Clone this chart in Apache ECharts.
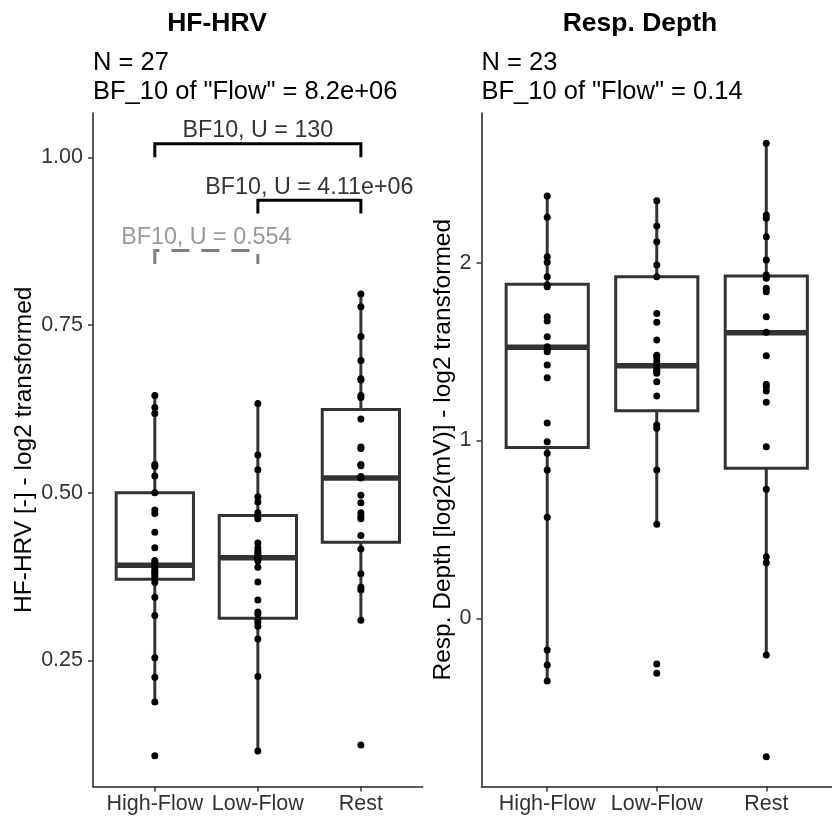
<!DOCTYPE html>
<html><head><meta charset="utf-8">
<script src="https://cdn.jsdelivr.net/npm/echarts@6/dist/echarts.min.js"></script>
<style>html,body{margin:0;padding:0;background:#fff}#c{width:832px;height:816px}</style>
</head><body><div id="c"></div>
<script>
const categories = ['High-Flow', 'Low-Flow', 'Rest'];

// HF-HRV (left panel) individual values
const hrvHighFlow = [0.645,0.627,0.618,0.542,0.539,0.525,0.500,0.474,0.469,0.441,0.418,0.399,0.396,0.394,0.391,0.386,0.382,0.380,0.376,0.372,0.366,0.344,0.317,0.254,0.225,0.188,0.108];
const hrvLowFlow = [0.633,0.556,0.534,0.494,0.486,0.470,0.465,0.461,0.425,0.418,0.413,0.410,0.408,0.405,0.403,0.398,0.389,0.367,0.340,0.322,0.319,0.311,0.307,0.301,0.282,0.226,0.115];
const hrvRest = [0.796,0.777,0.733,0.697,0.670,0.668,0.645,0.642,0.610,0.568,0.566,0.542,0.540,0.524,0.522,0.496,0.485,0.470,0.465,0.461,0.436,0.416,0.379,0.359,0.355,0.310,0.124];
// box stats [lower whisker, Q1, median, Q3, upper whisker]
const hrvBoxHighFlow = [0.188, 0.371, 0.392, 0.500, 0.645];
const hrvBoxLowFlow = [0.115, 0.313, 0.403, 0.466, 0.633];
const hrvBoxRest = [0.310, 0.426, 0.522, 0.624, 0.796];

// Resp. Depth (right panel) individual values
const depthHighFlow = [2.375,2.255,2.034,2.002,1.921,1.875,1.865,1.696,1.672,1.584,1.528,1.513,1.499,1.425,1.353,1.098,0.993,0.928,0.834,0.568,-0.178,-0.263,-0.353];
const depthLowFlow = [2.349,2.206,2.118,1.987,1.921,1.715,1.665,1.565,1.480,1.466,1.445,1.425,1.400,1.390,1.378,1.331,1.250,1.087,1.069,0.834,0.529,-0.257,-0.309];
const depthRest = [2.672,2.268,2.250,2.146,2.015,1.931,1.925,1.912,1.856,1.837,1.696,1.609,1.477,1.316,1.303,1.278,1.215,0.965,0.726,0.346,0.313,-0.206,-0.778];
const depthBoxHighFlow = [-0.353, 0.960, 1.524, 1.879, 2.375];
const depthBoxLowFlow = [0.529, 1.168, 1.421, 1.921, 2.349];
const depthBoxRest = [-0.206, 0.844, 1.606, 1.925, 2.672];

const hrvTicks = [0.25, 0.50, 0.75, 1.00];
const depthTicks = [0, 1, 2];

// significance brackets (left panel)
const bracketFrom = [0, 1, 0];
const bracketTo = [2, 2, 1];
const bracketTop = [1.020, 0.936, 0.861];
const bracketTip = [1.000, 0.916, 0.841];
const bracketText = ['BF10, U = 130', 'BF10, U = 4.11e+06', 'BF10, U = 0.554'];
const bracketColor = ['#000000', '#000000', '#7f7f7f'];
const bracketDashed = [false, false, true];

const FONT = "'Liberation Sans', Arial, Helvetica, sans-serif";
const DARK = '#333333';

function renderBox(params, api) {
  const x = api.value(0);
  const pMin = api.coord([x, api.value(1)]);
  const pQ1 = api.coord([x, api.value(2)]);
  const pMed = api.coord([x, api.value(3)]);
  const pQ3 = api.coord([x, api.value(4)]);
  const pMax = api.coord([x, api.value(5)]);
  const w = api.size([0.75, 0])[0];
  const cx = pQ1[0];
  const ls = { stroke: DARK, lineWidth: 3 };
  return {
    type: 'group',
    children: [
      { type: 'line', shape: { x1: cx, y1: pMax[1], x2: cx, y2: pQ3[1] }, style: ls },
      { type: 'line', shape: { x1: cx, y1: pQ1[1], x2: cx, y2: pMin[1] }, style: ls },
      { type: 'rect', shape: { x: cx - w / 2, y: pQ3[1], width: w, height: pQ1[1] - pQ3[1] },
        style: { fill: '#ffffff', stroke: DARK, lineWidth: 3 } },
      { type: 'line', shape: { x1: cx - w / 2, y1: pMed[1], x2: cx + w / 2, y2: pMed[1] },
        style: { stroke: DARK, lineWidth: 5.5 } }
    ]
  };
}

function boxData(list) { return list.map((b, i) => [i].concat(b)); }
function pointData(lists) {
  const out = [];
  lists.forEach((arr, i) => arr.forEach(v => out.push([i, v])));
  return out;
}

function xAxisDef(gridIndex) {
  return {
    type: 'value', gridIndex: gridIndex, min: -0.6, max: 2.6,
    splitLine: { show: false },
    axisLine: { show: true, onZero: false, lineStyle: { color: '#222', width: 1.5 } },
    axisTick: { show: true, length: 5, customValues: [0, 1, 2], lineStyle: { color: DARK, width: 1.5 } },
    axisLabel: { customValues: [0, 1, 2], formatter: v => categories[Math.round(v)], margin: 7,
      fontFamily: FONT, fontSize: 21.5, color: DARK }
  };
}

function yAxisDef(gridIndex, min, max, ticks, fmt, name, gap) {
  return {
    type: 'value', gridIndex: gridIndex, min: min, max: max,
    splitLine: { show: false },
    axisLine: { show: true, onZero: false, lineStyle: { color: '#222', width: 1.5 } },
    axisTick: { show: true, length: 5, customValues: ticks, lineStyle: { color: DARK, width: 1.5 } },
    axisLabel: { customValues: ticks, formatter: fmt, margin: 10,
      fontFamily: FONT, fontSize: 21.5, color: DARK },
    name: name, nameLocation: 'middle', nameGap: gap,
    nameTextStyle: { fontFamily: FONT, fontSize: 24.5, color: '#000' }
  };
}

const series = [
  { type: 'custom', xAxisIndex: 0, yAxisIndex: 0, renderItem: renderBox,
    encode: { x: 0, y: [1, 2, 3, 4, 5] }, z: 2,
    data: boxData([hrvBoxHighFlow, hrvBoxLowFlow, hrvBoxRest]) },
  { type: 'scatter', xAxisIndex: 0, yAxisIndex: 0, symbolSize: 7, z: 5,
    itemStyle: { color: '#000', opacity: 1 }, data: pointData([hrvHighFlow, hrvLowFlow, hrvRest]) },
  { type: 'custom', xAxisIndex: 1, yAxisIndex: 1, renderItem: renderBox,
    encode: { x: 0, y: [1, 2, 3, 4, 5] }, z: 2,
    data: boxData([depthBoxHighFlow, depthBoxLowFlow, depthBoxRest]) },
  { type: 'scatter', xAxisIndex: 1, yAxisIndex: 1, symbolSize: 7, z: 5,
    itemStyle: { color: '#000', opacity: 1 }, data: pointData([depthHighFlow, depthLowFlow, depthRest]) }
];

bracketText.forEach((t, k) => {
  series.push({
    type: 'line', xAxisIndex: 0, yAxisIndex: 0, symbol: 'none', z: 6, animation: false,
    lineStyle: { color: bracketColor[k], width: 3, type: bracketDashed[k] ? [18, 12] : 'solid', cap: 'butt', join: 'miter' },
    data: [[bracketFrom[k], bracketTip[k]], [bracketFrom[k], bracketTop[k]], [bracketTo[k], bracketTop[k]], [bracketTo[k], bracketTip[k]]]
  });
  series.push({
    type: 'scatter', xAxisIndex: 0, yAxisIndex: 0, symbolSize: 1, z: 7, animation: false,
    itemStyle: { color: 'rgba(0,0,0,0)' },
    label: { show: true, position: 'top', distance: 1, formatter: t, color: bracketColor[k],
      fontFamily: FONT, fontSize: 23.3 },
    data: [[(bracketFrom[k] + bracketTo[k]) / 2, bracketTop[k]]]
  });
});

const option = {
  backgroundColor: '#ffffff',
  animation: false,
  grid: [
    { left: 93, top: 113, width: 329.7, height: 673.5 },
    { left: 481.5, top: 113, width: 361.3, height: 673.5 }
  ],
  xAxis: [xAxisDef(0), xAxisDef(1)],
  yAxis: [
    yAxisDef(0, 0.062, 1.066, hrvTicks, v => v.toFixed(2), 'HF-HRV [-] - log2 transformed', 56),
    yAxisDef(1, -0.946, 2.842, depthTicks, v => String(v), 'Resp. Depth [log2(mV)] - log2 transformed', 22)
  ],
  graphic: [
    { type: 'text', x: 217, y: 24, style: { text: 'HF-HRV', align: 'center', verticalAlign: 'middle',
      font: "bold 26.5px " + FONT, fill: '#000' } },
    { type: 'text', x: 640, y: 24, style: { text: 'Resp. Depth', align: 'center', verticalAlign: 'middle',
      font: "bold 26.5px " + FONT, fill: '#000' } },
    { type: 'text', x: 93, y: 63, style: { text: 'N = 27', verticalAlign: 'middle', font: "25.5px " + FONT, fill: '#000' } },
    { type: 'text', x: 93, y: 92, style: { text: 'BF_10 of "Flow" = 8.2e+06', verticalAlign: 'middle', font: "25.5px " + FONT, fill: '#000' } },
    { type: 'text', x: 481.5, y: 63, style: { text: 'N = 23', verticalAlign: 'middle', font: "25.5px " + FONT, fill: '#000' } },
    { type: 'text', x: 481.5, y: 92, style: { text: 'BF_10 of "Flow" = 0.14', verticalAlign: 'middle', font: "25.5px " + FONT, fill: '#000' } }
  ],
  series: series
};

const chart = echarts.init(document.getElementById('c'), null, { renderer: 'canvas', width: 832, height: 816 });
chart.setOption(option);
</script>
</body></html>
